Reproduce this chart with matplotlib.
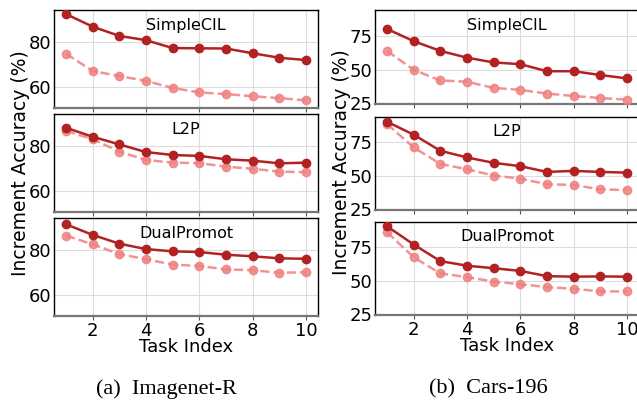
import matplotlib
matplotlib.use('Agg')
import matplotlib.pyplot as plt

tasks = [1, 2, 3, 4, 5, 6, 7, 8, 9, 10]
methods = ['SimpleCIL', 'L2P', 'DualPromot']

# Imagenet-R
inr_simplecil_a = [92.4, 86.8, 82.7, 80.8, 77.3, 77.2, 77.1, 75.0, 73.0, 72.0]
inr_simplecil_b = [74.8, 67.1, 64.9, 62.7, 59.6, 57.6, 56.9, 55.9, 55.1, 54.1]
inr_l2p_a = [88.1, 84.1, 80.7, 77.3, 76.0, 75.6, 74.1, 73.5, 72.3, 72.6]
inr_l2p_b = [86.7, 83.0, 77.5, 73.8, 72.6, 72.4, 70.8, 69.9, 68.6, 68.4]
inr_dual_a = [91.4, 86.7, 82.8, 80.4, 79.4, 79.1, 77.9, 77.2, 76.3, 76.1]
inr_dual_b = [86.4, 82.5, 78.2, 75.9, 73.5, 72.9, 71.4, 71.0, 69.9, 70.1]

# Cars-196
car_simplecil_a = [80.0, 71.0, 63.8, 58.8, 55.3, 54.0, 48.8, 48.8, 46.0, 43.5]
car_simplecil_b = [63.8, 49.8, 42.0, 41.0, 36.5, 35.0, 32.3, 30.5, 29.0, 27.8]
car_l2p_a = [90.5, 80.8, 68.8, 63.8, 59.8, 57.3, 53.0, 53.8, 53.0, 52.5]
car_l2p_b = [88.8, 71.3, 59.0, 55.0, 50.3, 48.0, 43.8, 43.3, 40.0, 39.5]
car_dual_a = [90.8, 77.2, 64.8, 61.4, 59.5, 57.5, 53.6, 53.2, 53.4, 53.2]
car_dual_b = [86.4, 67.7, 55.6, 52.9, 49.5, 47.6, 45.4, 44.2, 42.2, 42.2]

inr_yticks = [60, 80]
car_yticks = [25, 50, 75]

W, H = 637, 403


def draw_panel(fig, left_px, right_px, rows_px, series, ylim, yticks, caption, cap_x):
    axes = []
    for i, ((top, bottom), name, (sa, sb)) in enumerate(zip(rows_px, methods, series)):
        ax = fig.add_axes([left_px / W, 1 - bottom / H, (right_px - left_px) / W, (bottom - top) / H])
        ax.plot(tasks, sb, color='#F08080', alpha=0.85, linestyle='--', linewidth=1.8,
                marker='o', markersize=6, zorder=3)
        ax.plot(tasks, sa, color='#B22222', linestyle='-', linewidth=1.8,
                marker='o', markersize=6, zorder=4)
        ax.set_xlim(0.55, 10.45)
        ax.set_ylim(*ylim)
        ax.set_xticks([2, 4, 6, 8, 10])
        ax.set_yticks(yticks)
        ax.grid(True, color='#dddddd', linewidth=0.8)
        ax.set_axisbelow(True)
        ax.text(0.5, 0.84, name, transform=ax.transAxes, ha='center', va='center', fontsize=11.5)
        ax.tick_params(axis='y', length=0, labelsize=13, pad=2)
        ax.tick_params(axis='x', length=3, color='#555555', labelsize=13, pad=1)
        for s in ['top', 'right', 'left']:
            ax.spines[s].set_color('black')
            ax.spines[s].set_linewidth(1.0)
        ax.spines['bottom'].set_color('#777777')
        ax.spines['bottom'].set_linewidth(1.6)
        if i < 2:
            ax.tick_params(axis='x', labelbottom=False)
        else:
            ax.set_xlabel('Task Index', fontsize=13, labelpad=-1)
        axes.append(ax)
    fig.text(left_px / W - 0.053, 1 - (rows_px[0][0] + rows_px[2][1]) / 2 / H,
             'Increment Accuracy (%)', rotation=90, ha='center', va='center', fontsize=13.5)
    fig.text(cap_x / W, 1 - 389 / H, caption, ha='center', va='center',
             fontsize=16, family='Liberation Serif')
    return axes


fig = plt.figure(figsize=(W / 100, H / 100), dpi=100)

draw_panel(fig, 54, 318, [(10, 108), (114, 212), (218, 316)],
           [(inr_simplecil_a, inr_simplecil_b), (inr_l2p_a, inr_l2p_b), (inr_dual_a, inr_dual_b)],
           (50.7, 94.2), inr_yticks, '(a)  Imagenet-R', 166)

draw_panel(fig, 375, 639, [(10, 104), (117, 210), (222, 315)],
           [(car_simplecil_a, car_simplecil_b), (car_l2p_a, car_l2p_b), (car_dual_a, car_dual_b)],
           (24.6, 94.0), car_yticks, '(b)  Cars-196', 488)

fig.savefig('out.png', dpi=100)
